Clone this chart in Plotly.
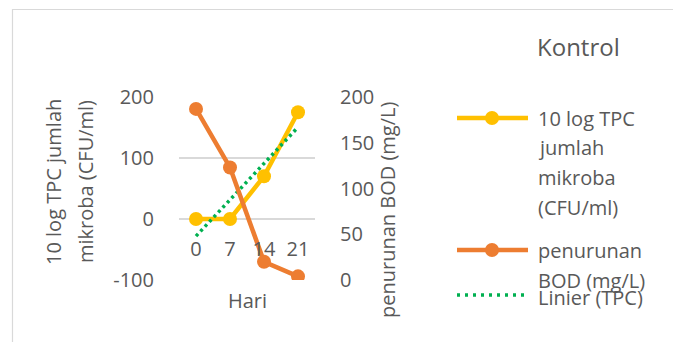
import numpy as np
import plotly.graph_objects as go

# Data
hari = ["0", "7", "14", "21"]
tpc = [0, 0, 70, 175]          # 10 log TPC jumlah mikroba (CFU/ml)
bod = [187, 123, 20, 4]        # penurunan BOD (mg/L)
left_ticks = [-100, 0, 100, 200]
left_labels = ["-100", "0", "100", "200"]
right_ticks = [0, 50, 100, 150, 200]

W, H = 673, 342
L, R, T, B = 179, 358, 97, 62
PW, PH = W - L - R, H - T - B

TEXT = "#595959"
FONT = "Open Sans"
YELLOW = "#FFC000"
ORANGE = "#ED7D31"
GREEN = "#00B050"


def px(x):
    return (x - L) / PW


def py(y):
    return (H - B - y) / PH


# Linear trendline of TPC over the category index (1..n)
idx = np.arange(1, len(tpc) + 1)
slope, icpt = np.polyfit(idx, tpc, 1)
trend = slope * idx + icpt

fig = go.Figure()
fig.add_trace(go.Scatter(
    x=hari, y=tpc, mode="lines+markers", name="10 log TPC jumlah mikroba (CFU/ml)",
    line=dict(color=YELLOW, width=4.5), marker=dict(size=14, color=YELLOW),
    yaxis="y", showlegend=False))
fig.add_trace(go.Scatter(
    x=hari, y=trend, mode="lines", name="Linier (TPC)",
    line=dict(color=GREEN, width=3.5, dash="3px,3.5px"),
    yaxis="y", showlegend=False))
fig.add_trace(go.Scatter(
    x=hari, y=bod, mode="lines+markers", name="penurunan BOD (mg/L)",
    line=dict(color=ORANGE, width=4.5), marker=dict(size=14, color=ORANGE),
    yaxis="y2", showlegend=False))

axis_font = dict(family=FONT, size=20, color=TEXT)

fig.update_layout(
    width=W, height=H,
    margin=dict(l=L, r=R, t=T, b=B, pad=0),
    paper_bgcolor="white", plot_bgcolor="white",
    font=axis_font,
    xaxis=dict(type="category", categoryorder="array", categoryarray=hari,
               range=[-0.5, len(hari) - 0.5], anchor="free", position=py(219),
               showgrid=False, zeroline=False, showline=False,
               ticks="outside", ticklen=12, tickcolor="rgba(0,0,0,0)",
               tickfont=axis_font),
    yaxis=dict(range=[-100, 200], tickvals=left_ticks, ticktext=left_labels,
               showgrid=True, gridcolor="#D9D9D9", gridwidth=1.5, zeroline=False,
               ticks="outside", ticklen=20, tickcolor="rgba(0,0,0,0)",
               tickfont=axis_font),
    yaxis2=dict(range=[0, 200], tickvals=right_ticks, overlaying="y",
                side="right", showgrid=False, zeroline=False,
                ticks="outside", ticklen=20, tickcolor="rgba(0,0,0,0)",
                tickfont=axis_font),
    showlegend=False,
)

ann = []


def text(x, y, s, size=20, angle=0, xanchor="center"):
    ann.append(dict(x=px(x), y=py(y), xref="paper", yref="paper", text=s,
                    showarrow=False, textangle=angle, xanchor=xanchor,
                    yanchor="middle", font=dict(family=FONT, size=size, color=TEXT)))


# Axis titles
text(53, 182, "10 log TPC jumlah", angle=-90)
text(85, 182, "mikroba (CFU/ml)", angle=-90)
text(387, 210, "penurunan BOD (mg/L)", angle=-90)
text(247, 300, "Hari")

# Legend
text(535, 47, "Kontrol", size=24, xanchor="left")
for i, s in enumerate(["10 log TPC", "jumlah", "mikroba", "(CFU/ml)"]):
    text(536, 118 + 29.7 * i, s, xanchor="left")
text(536, 250, "penurunan", xanchor="left")
text(536, 280, "BOD (mg/L)", xanchor="left")
text(536, 297, "Linier (TPC)", xanchor="left")

shapes = [
    # chart frame
    dict(type="rect", xref="paper", yref="paper", x0=px(12.5), y0=py(9.5),
         x1=px(W + 20), y1=py(H + 20), line=dict(color="#D9D9D9", width=1.2)),
]
for yy, col in [(118, YELLOW), (250, ORANGE)]:
    shapes.append(dict(type="line", xref="paper", yref="paper", x0=px(457), x1=px(528),
                       y0=py(yy), y1=py(yy), line=dict(color=col, width=4.5)))
    shapes.append(dict(type="circle", xref="paper", yref="paper",
                       x0=px(492 - 7), x1=px(492 + 7), y0=py(yy - 7), y1=py(yy + 7),
                       fillcolor=col, line=dict(color=col, width=0)))
shapes.append(dict(type="line", xref="paper", yref="paper", x0=px(457), x1=px(528),
                   y0=py(295), y1=py(295),
                   line=dict(color=GREEN, width=3.5, dash="3px,5px")))

fig.update_layout(annotations=ann, shapes=shapes)
fig.write_html("out.html")
